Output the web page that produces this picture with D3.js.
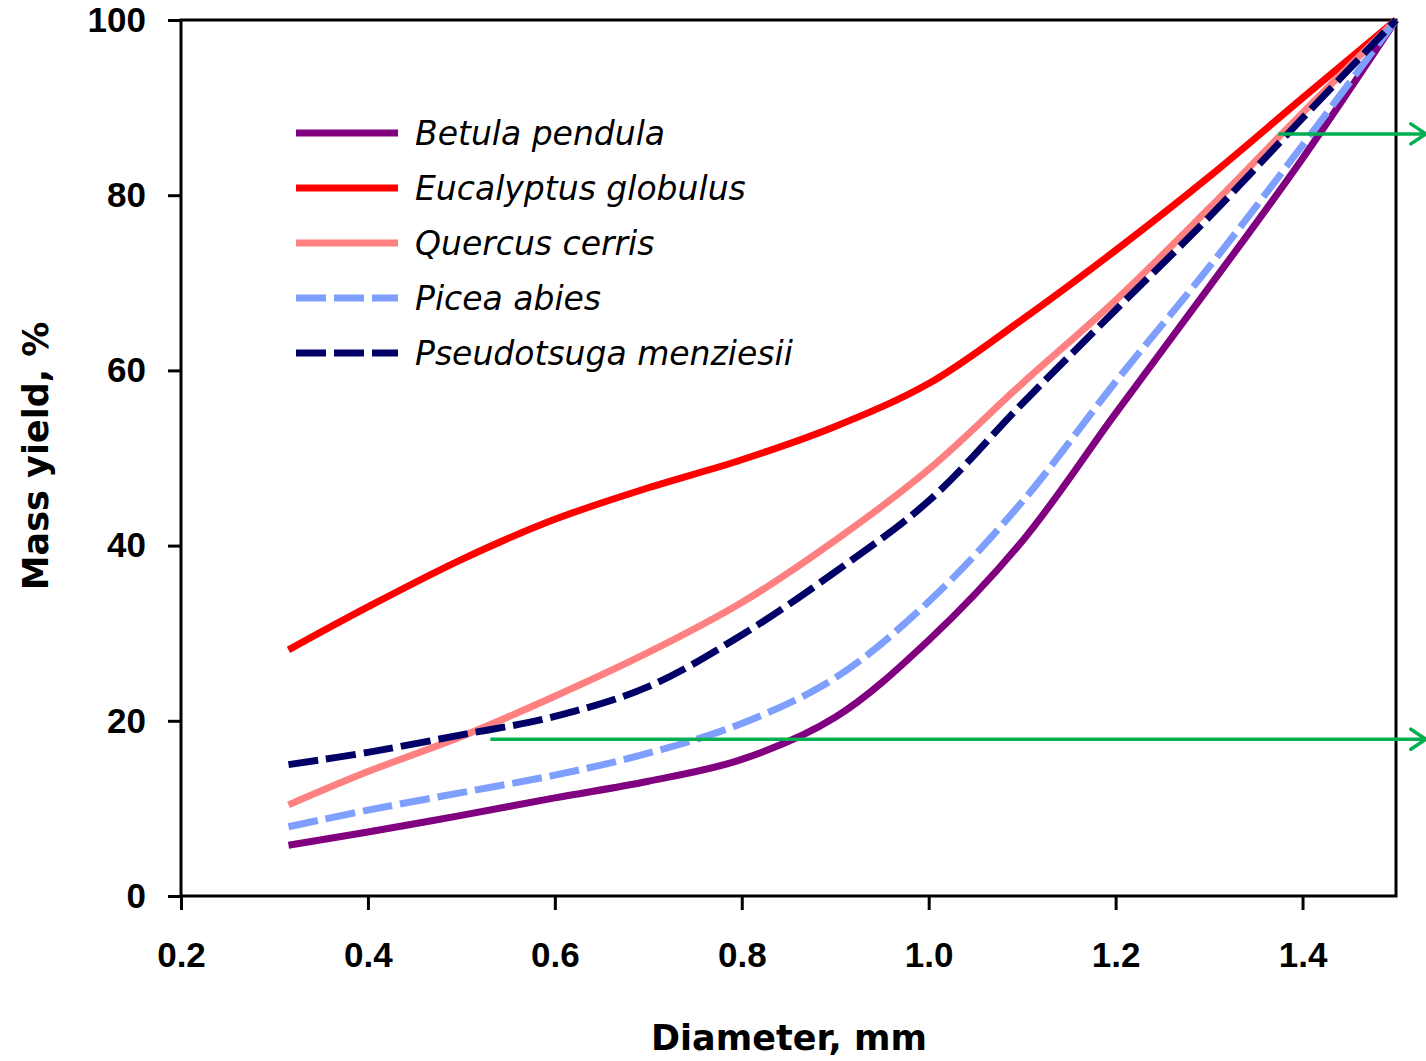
<!DOCTYPE html>
<html>
<head>
<meta charset="utf-8">
<script src="https://cdn.jsdelivr.net/npm/d3@7"></script>
<style>
  body { margin: 0; background: #fff; }
  svg { display: block; }
</style>
</head>
<body>
<div id="chart"></div>
<script>
// diameter, mm (x) and mass yield, % (y)
const diameter = [0.315, 0.4, 0.5, 0.6, 0.7, 0.8, 0.9, 1.0, 1.1, 1.2, 1.3, 1.4, 1.5];
const betula = [5.8, 7.3, 9.2, 11.2, 13.1, 15.6, 20.4, 29.2, 40.5, 55.1, 69.5, 84.2, 100];
const eucalyptus = [28.1, 33.0, 38.4, 43.0, 46.6, 49.8, 53.6, 58.5, 65.8, 73.7, 82.1, 91.1, 100];
const quercus = [10.4, 14.2, 18.2, 22.8, 27.8, 33.5, 40.6, 48.7, 58.5, 68.0, 78.5, 89.4, 100];
const picea = [7.9, 9.8, 11.8, 13.8, 16.3, 19.7, 24.9, 33.6, 45.0, 58.7, 71.8, 85.7, 100];
const pseudotsuga = [15.0, 16.4, 18.4, 20.5, 23.9, 29.8, 37.0, 45.1, 56.2, 66.9, 77.5, 88.8, 100];

const seriesNames = ["Betula pendula", "Eucalyptus globulus", "Quercus cerris", "Picea abies", "Pseudotsuga menziesii"];
const seriesValues = [betula, eucalyptus, quercus, picea, pseudotsuga];

const xTicks = [0.2, 0.4, 0.6, 0.8, 1.0, 1.2, 1.4];
const yTicks = [0, 20, 40, 60, 80, 100];

// green annotation arrows: start diameter, yield level, common end
const arrowStart = [0.531, 1.374];
const arrowYield = [17.9, 87.0];
const arrowEnd = 1.533;

// styles
const colors = ["#800080", "#ff0000", "#ff8080", "#7f9fff", "#000066"];
const dashes = [null, null, null, "30,8", "30,8"];

const W = 1426, H = 1061;
const mLeft = 181, mRight = 1396, mTop = 20, mBottom = 896;

const svg = d3.select("#chart").append("svg")
    .attr("width", W)
    .attr("height", H);

const x = d3.scaleLinear().domain([0.2, 1.5]).range([mLeft, mRight]);
const y = d3.scaleLinear().domain([0, 100]).range([mBottom, mTop]);

const tickFont = "'Liberation Sans', Arial, sans-serif";

// y axis
const yAxis = svg.append("g")
    .attr("transform", `translate(${mLeft},0)`)
    .call(d3.axisLeft(y).tickValues(yTicks).tickSize(13).tickPadding(22).tickFormat(d3.format("d")));
yAxis.select(".domain").remove();
yAxis.selectAll("line").attr("stroke", "#000").attr("stroke-width", 3);
yAxis.selectAll("text")
    .attr("fill", "#000")
    .style("font-family", tickFont)
    .style("font-weight", "bold")
    .style("font-size", "35px");

// x axis
const xAxis = svg.append("g")
    .attr("transform", `translate(0,${mBottom})`)
    .call(d3.axisBottom(x).tickValues(xTicks).tickSize(14).tickPadding(32).tickFormat(d3.format(".1f")));
xAxis.select(".domain").remove();
xAxis.selectAll("line").attr("stroke", "#000").attr("stroke-width", 3);
xAxis.selectAll("text")
    .attr("fill", "#000")
    .style("font-family", tickFont)
    .style("font-weight", "bold")
    .style("font-size", "35px");

// frame
svg.append("rect")
    .attr("x", mLeft)
    .attr("y", mTop)
    .attr("width", mRight - mLeft)
    .attr("height", mBottom - mTop)
    .attr("fill", "none")
    .attr("stroke", "#000")
    .attr("stroke-width", 3);

// axis titles
svg.append("text")
    .attr("x", 789)
    .attr("y", 1050)
    .attr("text-anchor", "middle")
    .style("font-family", "'DejaVu Sans', sans-serif")
    .style("font-weight", "bold")
    .style("font-size", "35px")
    .text("Diameter, mm");

svg.append("text")
    .attr("transform", "translate(48,456) rotate(-90)")
    .attr("text-anchor", "middle")
    .style("font-family", "'DejaVu Sans', sans-serif")
    .style("font-weight", "bold")
    .style("font-size", "35px")
    .text("Mass yield, %");

// curves
const line = d3.line()
    .x((d, i) => x(diameter[i]))
    .y(d => y(d))
    .curve(d3.curveCatmullRom.alpha(0.5));

seriesValues.forEach((vals, k) => {
    const p = svg.append("path")
        .datum(vals)
        .attr("d", line)
        .attr("fill", "none")
        .attr("stroke", colors[k])
        .attr("stroke-width", 7);
    if (dashes[k]) p.attr("stroke-dasharray", dashes[k]);
});

// legend
const legend = svg.append("g");
seriesNames.forEach((name, k) => {
    const ly = 133 + k * 55;
    const l = legend.append("line")
        .attr("x1", 296).attr("x2", 398)
        .attr("y1", ly).attr("y2", ly)
        .attr("stroke", colors[k])
        .attr("stroke-width", 7);
    if (dashes[k]) l.attr("stroke-dasharray", dashes[k]);
    legend.append("text")
        .attr("x", 415)
        .attr("y", ly + 12)
        .style("font-family", "'DejaVu Sans', sans-serif")
        .style("font-style", "italic")
        .style("font-size", "33px")
        .text(name);
});

// green arrows
const green = "#00b050";
arrowStart.forEach((xs, k) => {
    const ay = y(arrowYield[k]);
    const xe = x(arrowEnd);
    svg.append("line")
        .attr("x1", x(xs)).attr("x2", xe - 2)
        .attr("y1", ay).attr("y2", ay)
        .attr("stroke", green)
        .attr("stroke-width", 3.5);
    svg.append("path")
        .attr("d", `M${xe - 16},${ay - 10} L${xe - 1},${ay} L${xe - 16},${ay + 10}`)
        .attr("fill", "none")
        .attr("stroke", green)
        .attr("stroke-width", 3.5)
        .attr("stroke-linecap", "round");
});
</script>
</body>
</html>
